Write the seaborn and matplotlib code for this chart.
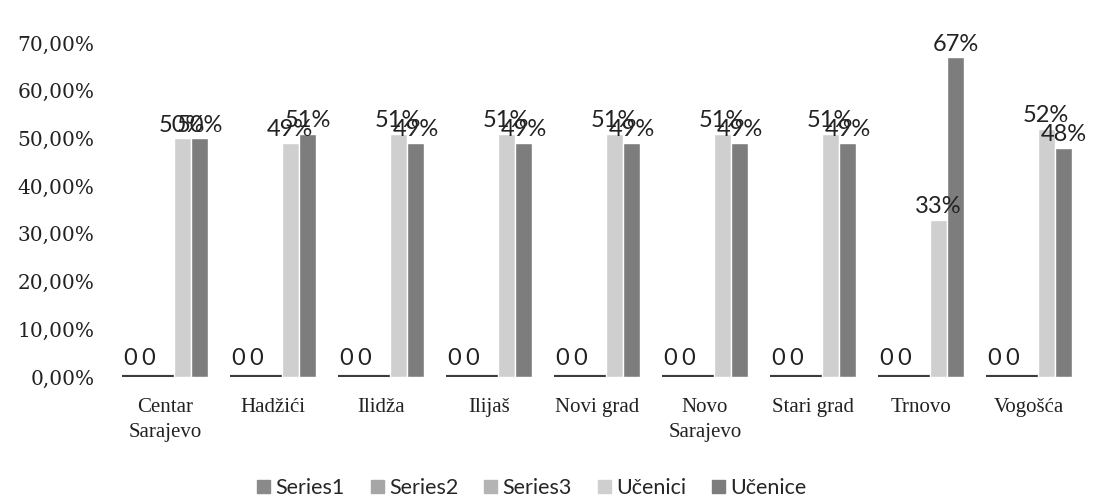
import pandas as pd
import seaborn as sns
import matplotlib.pyplot as plt

# Data
municipalities = ['Centar\nSarajevo', 'Hadžići', 'Ilidža', 'Ilijaš', 'Novi grad',
                  'Novo\nSarajevo', 'Stari grad', 'Trnovo', 'Vogošća']
series_names = ['Series1', 'Series2', 'Series3', 'Učenici', 'Učenice']
series1 = [0, 0, 0, 0, 0, 0, 0, 0, 0]
series2 = [0, 0, 0, 0, 0, 0, 0, 0, 0]
series3 = [0, 0, 0, 0, 0, 0, 0, 0, 0]
ucenici = [0.50, 0.49, 0.51, 0.51, 0.51, 0.51, 0.51, 0.33, 0.52]
ucenice = [0.50, 0.51, 0.49, 0.49, 0.49, 0.49, 0.49, 0.67, 0.48]
yticks = [0, 0.1, 0.2, 0.3, 0.4, 0.5, 0.6, 0.7]

colors = ['#8a8a8a', '#a6a6a6', '#b4b4b4', '#cfcfcf', '#7d7d7d']

rows = []
for name, vals in zip(series_names, [series1, series2, series3, ucenici, ucenice]):
    for m, v in zip(municipalities, vals):
        rows.append({'Opcina': m, 'Serija': name, 'Vrijednost': v})
df = pd.DataFrame(rows)

sns.set_style('white')
fig = plt.figure(figsize=(11.07, 5.01), dpi=100)
ax = fig.add_axes([111 / 1107, 1 - 377 / 501, 972 / 1107, 334 / 501])

sns.barplot(data=df, x='Opcina', y='Vrijednost', hue='Serija',
            hue_order=series_names, palette=colors, width=0.8,
            saturation=1, ax=ax, legend=False)

# zero-height bars show up as a dark floor line
for cont in ax.containers[:3]:
    for p in cont:
        p.set_edgecolor('#3c3c3c')
        p.set_linewidth(3)

ax.set_ylim(0, 0.70)
ax.set_xlim(-0.5, 8.5)
ax.set_yticks(yticks)
ax.set_yticklabels([f'{t * 100:.2f}%'.replace('.', ',') for t in yticks],
                   family='DejaVu Serif', fontsize=14.5, color='#222222')
ax.set_xticks(range(len(municipalities)))
ax.set_xticklabels(municipalities, family='Liberation Serif', fontsize=15,
                   color='#222222', va='top', linespacing=1.45)
ax.tick_params(axis='y', length=0, pad=12)
ax.tick_params(axis='x', length=0, pad=15)
ax.set_xlabel('')
ax.set_ylabel('')
sns.despine(ax=ax, left=True, bottom=True)

lab_font = dict(family='Lato', fontsize=17, color='#222222')
ax.bar_label(ax.containers[0], labels=['0'] * 9, padding=6, **lab_font)
ax.bar_label(ax.containers[1], labels=['0'] * 9, padding=6, **lab_font)
ax.bar_label(ax.containers[3], labels=[f'{v:.0%}' for v in ucenici], padding=2, **lab_font)
ax.bar_label(ax.containers[4], labels=[f'{v:.0%}' for v in ucenice], padding=2, **lab_font)

handles = [plt.Rectangle((0, 0), 1, 1, color=c) for c in colors]
fig.legend(handles, series_names, loc='center', bbox_to_anchor=(532 / 1107, 1 - 488 / 501),
           ncol=5, frameon=False, handlelength=0.6, handleheight=0.6,
           handletextpad=0.25, columnspacing=1.2,
           prop={'family': 'Lato', 'size': 15.5})

fig.savefig('out.png', dpi=100)
